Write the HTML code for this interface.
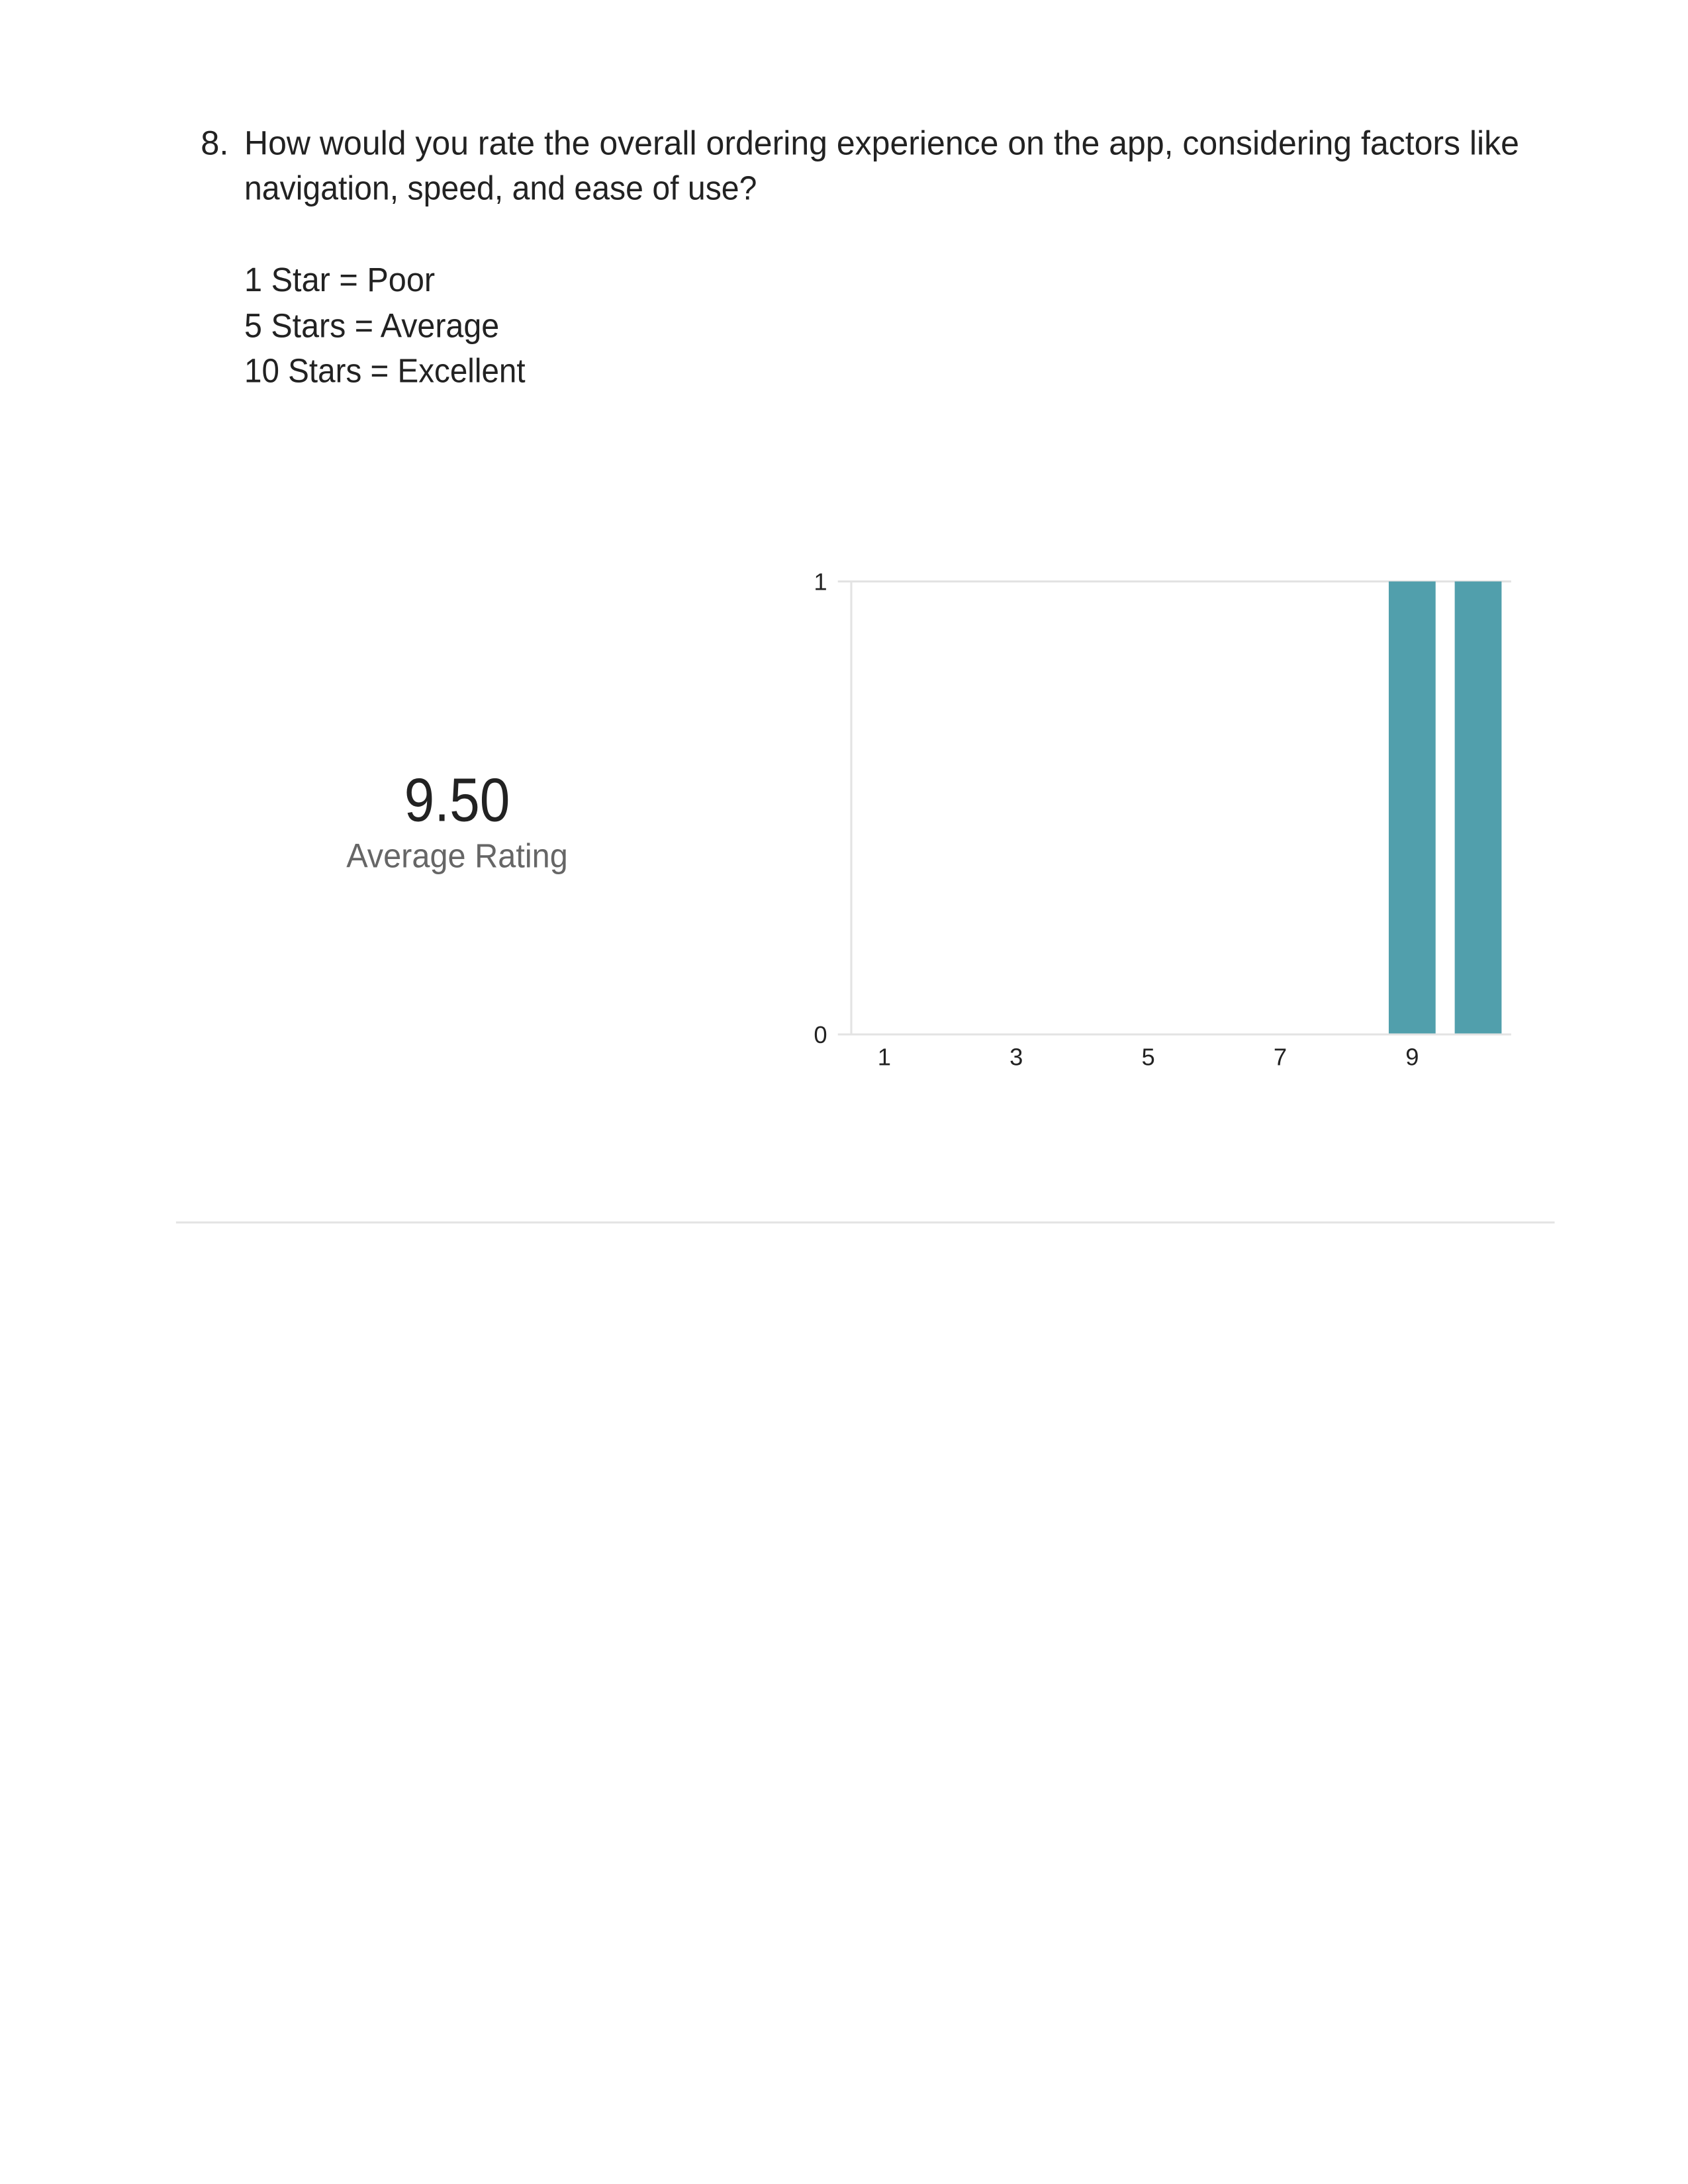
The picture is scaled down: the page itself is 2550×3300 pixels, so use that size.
<!DOCTYPE html>
<html><head><meta charset="utf-8"><style>
html,body{margin:0;padding:0;background:#fff;}
svg{display:block;font-family:"Liberation Sans",sans-serif;}
</style></head><body>
<svg width="2550" height="3300" viewBox="0 0 2550 3300">
<g transform="scale(1.011)">
<g fill="#222" font-size="50">
<text x="300" y="231">8.</text>
<text x="365" y="231" textLength="1905" lengthAdjust="spacingAndGlyphs">How would you rate the overall ordering experience on the app, considering factors like</text>
<text x="365" y="298" textLength="766" lengthAdjust="spacingAndGlyphs">navigation, speed, and ease of use?</text>
<text x="365" y="435" textLength="285" lengthAdjust="spacingAndGlyphs">1 Star = Poor</text>
<text x="365" y="504" textLength="381" lengthAdjust="spacingAndGlyphs">5 Stars = Average</text>
<text x="365" y="571" textLength="420" lengthAdjust="spacingAndGlyphs">10 Stars = Excellent</text>
</g>
<text x="683" y="1227" text-anchor="middle" font-size="92" fill="#222" textLength="158" lengthAdjust="spacingAndGlyphs">9.50</text>
<text x="683" y="1296" text-anchor="middle" font-size="50" fill="#666" textLength="331" lengthAdjust="spacingAndGlyphs">Average Rating</text>
<g id="chart"></g>
<line x1="263" y1="1827" x2="2323" y2="1827" stroke="#e3e3e3" stroke-width="3"/>
</g>
</svg>
<script>
const categories = [1,2,3,4,5,6,7,8,9,10];
const counts = [0,0,0,0,0,0,0,0,1,1];
const xTickLabels = ["1","3","5","7","9"];
const yTickValues = [0,1];
const NS="http://www.w3.org/2000/svg";
const g=document.getElementById('chart');
const L=1272,R=2258,T=869,B=1546,yMax=1;
const step=(R-L)/categories.length;
const xc=c=>L+(categories.indexOf(c)+0.5)*step;
const y=v=>B-(v/yMax)*(B-T);
function mk(t,a){const e=document.createElementNS(NS,t);for(const k in a)e.setAttribute(k,a[k]);g.appendChild(e);return e;}
yTickValues.forEach(v=>{
  const ln=mk('line',{x1:L-20,x2:R,y1:y(v),y2:y(v),stroke:'#e3e3e3','stroke-width':3});
  
  
  const t=mk('text',{x:L-36,y:y(v)+13,'text-anchor':'end','font-size':36,fill:'#222'});
  t.textContent=String(v);
  
  
});
const ax=mk('line',{x1:L,x2:L,y1:T,y2:B,stroke:'#e3e3e3','stroke-width':3});


categories.forEach((c,i)=>{
  if(counts[i]<=0)return;
  const w=70;
  const r=mk('rect',{x:xc(c)-w/2,y:y(counts[i]),width:w,height:B-y(counts[i])-1.5,fill:'#519fac'});
  
  
});
xTickLabels.forEach(s=>{
  const t=mk('text',{x:xc(Number(s)),y:1592,'text-anchor':'middle','font-size':36,fill:'#222'});
  t.textContent=s;
  
  
});
</script>
</body></html>
